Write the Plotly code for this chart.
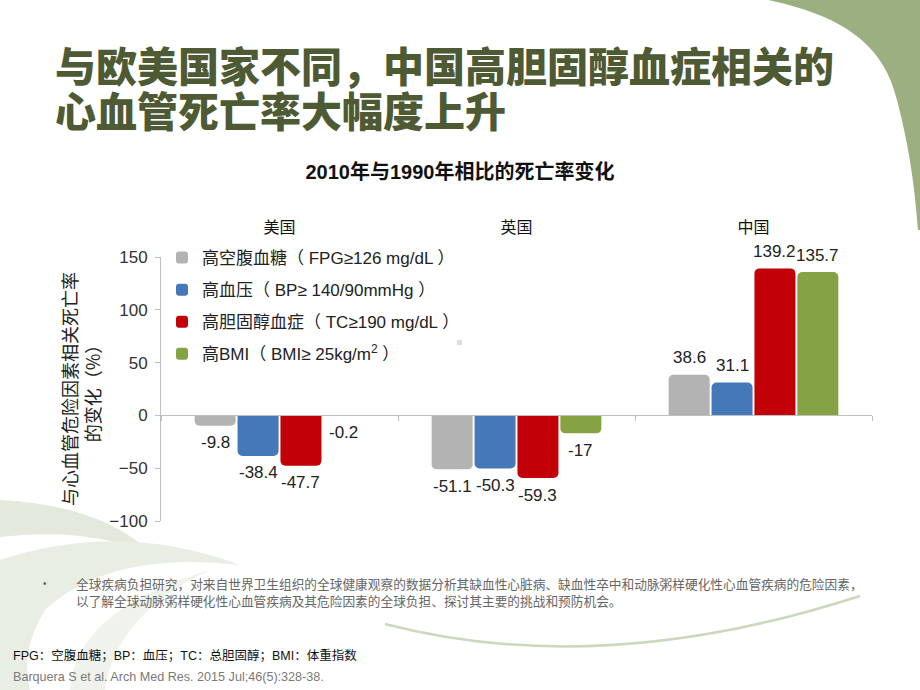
import plotly.graph_objects as go

# ---------------- data ----------------
categories = ["美国", "英国", "中国"]
series_names = [
    "高空腹血糖（ FPG≥126 mg/dL ）",
    "高血压（ BP≥ 140/90mmHg ）",
    "高胆固醇血症（ TC≥190 mg/dL ）",
    "高BMI（ BMI≥ 25kg/m<sup>2</sup> ）",
]
fpg_values = [-9.8, -51.1, 38.6]
bp_values = [-38.4, -50.3, 31.1]
tc_values = [-47.7, -59.3, 139.2]
bmi_values = [-0.2, -17, 135.7]
y_ticks = [-100, -50, 0, 50, 100, 150]
y_min, y_max = -100, 150

series_values = [fpg_values, bp_values, tc_values, bmi_values]
series_colors = ["#b3b3b3", "#4578b8", "#c20008", "#86a343"]

W, H = 920, 690
PL, PR, PT, PB = 161, 872, 257, 521  # plot area in pixels


def px(x):
    return (x - PL) / (PR - PL)


def py(y):
    return (PB - y) / (PB - PT)


CJK = "Noto Sans CJK SC"
LAT = "Liberation Sans, Arial, Noto Sans CJK SC"

fig = go.Figure()

x_pos = list(range(len(categories)))
bar_w = 0.173
pitch = 0.181
start = -(pitch * (len(series_values) - 1) + bar_w) / 2

annotations = []
for k, (name, vals, col) in enumerate(zip(series_names, series_values, series_colors)):
    off = start + k * pitch
    fig.add_trace(go.Bar(
        x=x_pos, y=vals, name=name, width=bar_w, offset=off,
        marker=dict(color=col, cornerradius=5, line=dict(width=0)),
        legendgroup=f"g{k}", hoverinfo="skip",
    ))
    for i, v in enumerate(vals):
        annotations.append(dict(
            x=i + off + bar_w / 2, y=v, xref="x", yref="y",
            text=f"{v:g}", showarrow=False,
            yshift=17 if v >= 0 else -17,
            font=dict(family=LAT, size=17, color="#222222"),
        ))

# invisible trace to carry the top category axis
fig.add_trace(go.Scatter(x=x_pos, y=[None] * len(x_pos), xaxis="x2", showlegend=False,
                         hoverinfo="skip", mode="markers"))

# ---------------- text annotations ----------------
title_font = dict(family=CJK, size=41, color="#4e5a33", weight=900)
annotations += [
    dict(x=px(53), y=py(64), xref="paper", yref="paper", xanchor="left", yanchor="middle",
         text="与欧美国家不同，中国高胆固醇血症相关的", showarrow=False, font=title_font),
    dict(x=px(53), y=py(109), xref="paper", yref="paper", xanchor="left", yanchor="middle",
         text="心血管死亡率大幅度上升", showarrow=False, font=title_font),
    dict(x=px(80), y=py(389), xref="paper", yref="paper", xanchor="center", yanchor="middle",
         textangle=-90, text="与心血管危险因素相关死亡率<br>的变化（%）", showarrow=False,
         font=dict(family=CJK, size=18, color="#222222")),
    dict(x=px(41), y=py(583), xref="paper", yref="paper", xanchor="left", yanchor="middle",
         text="•", showarrow=False, font=dict(family=LAT, size=10, color="#666666")),
    dict(x=px(74), y=py(592), xref="paper", yref="paper", xanchor="left", yanchor="middle",
         align="left",
         text="全球疾病负担研究，对来自世界卫生组织的全球健康观察的数据分析其缺血性心脏病、缺血性卒中和动脉粥样硬化性心血管疾病的危险因素，"
              "<br>以了解全球动脉粥样硬化性心血管疾病及其危险因素的全球负担、探讨其主要的挑战和预防机会。",
         showarrow=False, font=dict(family=CJK, size=12.7, color="#666666")),
    dict(x=px(11), y=py(655), xref="paper", yref="paper", xanchor="left", yanchor="middle",
         text="FPG：空腹血糖；BP：血压；TC：总胆固醇；BMI：体重指数", showarrow=False,
         font=dict(family=LAT, size=12.5, color="#111111")),
    dict(x=px(11), y=py(677), xref="paper", yref="paper", xanchor="left", yanchor="middle",
         text="Barquera S et al. Arch Med Res. 2015 Jul;46(5):328-38.", showarrow=False,
         font=dict(family=LAT, size=12.6, color="#7a7a7a")),
]

# ---------------- decorative shapes ----------------
shapes = [
    # top-right green leaf
    dict(type="path", xref="paper", yref="paper", layer="below", line=dict(width=0),
         fillcolor="#9caf80",
         path=f"M{px(758)},{py(-2)} C{px(850)},{py(15)} {px(885)},{py(50)} {px(897)},{py(100)} "
              f"C{px(910)},{py(150)} {px(915)},{py(190)} {px(918)},{py(230)} "
              f"L{px(925)},{py(230)} L{px(925)},{py(-2)} Z"),
    # bottom-left swooshes
    dict(type="path", xref="paper", yref="paper", layer="below", line=dict(width=0),
         fillcolor="#e3e9dd",
         path=f"M{px(0)},{py(500)} Q{px(100)},{py(505)} {px(150)},{py(552)} "
              f"Q{px(80)},{py(527)} {px(0)},{py(537)} Z"),
    dict(type="path", xref="paper", yref="paper", layer="below", line=dict(width=0),
         fillcolor="#e9eee5",
         path=f"M{px(0)},{py(560)} Q{px(120)},{py(520)} {px(240)},{py(565)} "
              f"Q{px(110)},{py(550)} {px(45)},{py(610)} Q{px(20)},{py(650)} {px(30)},{py(690)} "
              f"L{px(0)},{py(690)} Z"),
    dict(type="path", xref="paper", yref="paper", layer="below", line=dict(width=0),
         fillcolor="#f0f3ec",
         path=f"M{px(70)},{py(690)} Q{px(75)},{py(610)} {px(210)},{py(570)} "
              f"Q{px(115)},{py(615)} {px(105)},{py(690)} Z"),
    # thin bottom arc
    dict(type="path", xref="paper", yref="paper", layer="below",
         line=dict(width=2.5, color="#ccd8bd"),
         path=f"M{px(385)},{py(624)} Q{px(600)},{py(680)} {px(860)},{py(596)}"),
    # tiny gray square
    dict(type="rect", xref="paper", yref="paper", layer="below", line=dict(width=0),
         fillcolor="#dcdcdc", x0=px(457), x1=px(462), y0=py(345), y1=py(340)),
]

axis_col = "#bfbfbf"
fig.update_layout(
    width=W, height=H, autosize=False,
    margin=dict(l=PL, r=W - PR, t=PT, b=H - PB, pad=0, autoexpand=False),
    paper_bgcolor="white", plot_bgcolor="rgba(0,0,0,0)",
    barmode="group",
    title=dict(text="<b>2010年与1990年相比的死亡率变化</b>", x=0.5, xref="container", xanchor="center",
               y=1 - 172 / H, yref="container", yanchor="middle",
               font=dict(family=LAT, size=20, color="#111111")),
    xaxis=dict(range=[-0.5, len(categories) - 0.5], anchor="free",
               position=(0 - y_min) / (y_max - y_min), automargin=False,
               tickvals=[i - 0.5 for i in range(len(categories) + 1)],
               showticklabels=False, ticks="outside", ticklen=5, tickcolor=axis_col,
               showline=True, linecolor=axis_col, linewidth=1, showgrid=False, zeroline=False),
    xaxis2=dict(range=[-0.5, len(categories) - 0.5], overlaying="x", side="top", anchor="y",
                tickvals=x_pos, ticktext=categories, ticks="", showline=False, showgrid=False,
                zeroline=False, ticklabelstandoff=20, automargin=False,
                tickfont=dict(family=CJK, size=16, color="#111111")),
    yaxis=dict(range=[y_min, y_max], tickvals=y_ticks, ticks="outside", ticklen=5, tickcolor=axis_col,
               showline=True, linecolor=axis_col, linewidth=1, showgrid=False, zeroline=False,
               ticklabelstandoff=4, automargin=False,
               tickfont=dict(family=LAT, size=17, color="#333333")),
    legend=dict(x=px(162), xref="paper", y=py(240), yref="paper",
                xanchor="left", yanchor="top", bgcolor="rgba(0,0,0,0)",
                tracegroupgap=7, itemwidth=30,
                font=dict(family=LAT, size=17, color="#222222")),
    annotations=annotations,
    shapes=shapes,
    showlegend=True,
)

fig.write_html("out.html", config={"displayModeBar": False},
               post_script="document.body.style.margin='0';document.body.style.overflow='hidden';")
